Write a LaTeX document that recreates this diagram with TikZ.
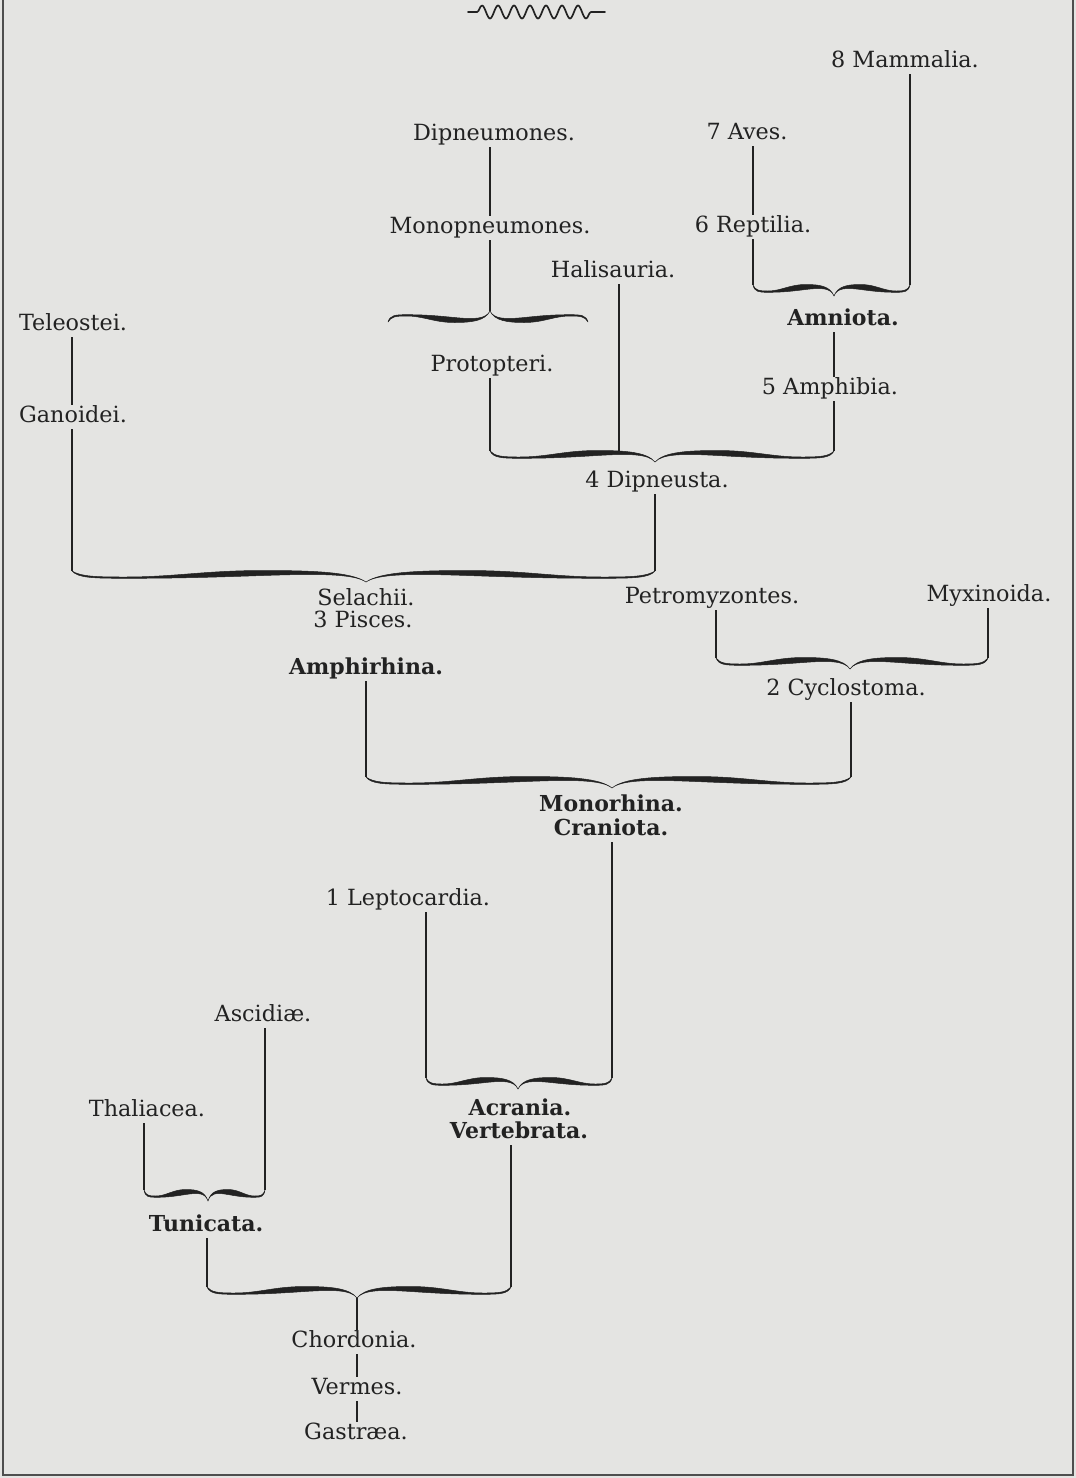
\documentclass[tikz,border=0pt]{standalone}
\usepackage{fontspec}
\setmainfont{DejaVu Serif}
\usetikzlibrary{decorations.pathmorphing}
\definecolor{paper}{HTML}{E4E4E2}
\definecolor{ink}{HTML}{222222}
\newcommand{\halfbrace}{%
  \filldraw[ink, line width=0.5pt, line join=round]
    (1,-6) .. controls (0.97,-0.5) and (0.92,0) .. (0.82,0)
    .. controls (0.65,0) and (0.55,-6.5) .. (0.35,-6.5)
    .. controls (0.18,-6.5) and (0.05,-5) .. (0,5)
    .. controls (0.04,-3) and (0.15,-3.5) .. (0.35,-1.5)
    .. controls (0.55,0.5) and (0.65,1.3) .. (0.82,1.3)
    .. controls (0.93,1.3) and (0.98,0.8) .. (1,-6) -- cycle;}
% #1 name, #2 xL, #3 xm, #4 xR, #5 y0, #6 orientation (1 or -1)
\newcommand{\hbrace}[6]{%
  \begin{scope}[shift={(#3,#5)}, yscale={#6}]
    \begin{scope}[xscale={-(#3-#2)}]\halfbrace\end{scope}
    \begin{scope}[xscale={#4-#3}]\halfbrace\end{scope}
  \end{scope}
  \coordinate (#1-L) at (#2,{#5-6*(#6)});
  \coordinate (#1-C) at (#3,{#5+5*(#6)});
  \coordinate (#1-R) at (#4,{#5-6*(#6)});}
\tikzset{
  lbl/.style={text=ink, inner sep=2pt, text height=15pt, text depth=5pt, anchor=base,
              font=\fontsize{22.3}{26}\selectfont},
  blbl/.style={lbl, font=\fontsize{22}{26}\selectfont\bfseries},
  conn/.style={draw=ink, line width=1.2pt},
  frame/.style={draw=ink!80, line width=1.5pt}
}
\begin{document}
\begin{tikzpicture}[x=1pt, y=-1pt]
\fill[paper] (0,0) rectangle (1076,1478);
\useasboundingbox (0,0) rectangle (1076,1478);
% frame
\coordinate (f1) at (3,0);
\coordinate (f2) at (3,1475);
\coordinate (f3) at (1073,1475);
\coordinate (f4) at (1073,0);
\draw[frame] (f1) -- (f2) -- (f3) -- (f4);
% wavy ornament
\coordinate (w1) at (468,12);
\coordinate (w2) at (605,12);
\draw[ink, line width=1.7pt, line join=round, line cap=round, decorate,
  decoration={snake, amplitude=6.5pt, segment length=16pt, pre length=9pt, post length=9pt}]
  (w1) -- (w2);

% labels
\node[lbl] (mammalia) at (905,67) {8 Mammalia.};
\node[lbl] (aves) at (747,139) {7 Aves.};
\node[lbl] (reptilia) at (753,232) {6 Reptilia.};
\node[blbl] (amniota) at (843,325) {Amniota.};
\node[lbl] (amphibia) at (830,394) {5 Amphibia.};
\node[lbl] (dipneumones) at (494,140) {Dipneumones.};
\node[lbl] (monopneumones) at (490,233) {Monopneumones.};
\node[lbl] (halisauria) at (613,277) {Halisauria.};
\node[lbl] (protopteri) at (492,371) {Protopteri.};
\node[lbl] (dipneusta) at (657,487) {4 Dipneusta.};
\node[lbl] (teleostei) at (73,330) {Teleostei.};
\node[lbl] (ganoidei) at (73,422) {Ganoidei.};
\node[lbl] (selachii) at (366,605) {Selachii.};
\node[lbl] (pisces) at (363,627) {3 Pisces.};
\node[blbl] (amphirhina) at (366,674) {Amphirhina.};
\node[lbl] (petromyzontes) at (712,603) {Petromyzontes.};
\node[lbl] (myxinoida) at (989,601) {Myxinoida.};
\node[lbl] (cyclostoma) at (846,695) {2 Cyclostoma.};
\node[blbl] (monorhina) at (611,811) {Monorhina.};
\node[blbl] (craniota) at (611,835) {Craniota.};
\node[lbl] (leptocardia) at (408,905) {1 Leptocardia.};
\node[blbl] (acrania) at (520,1115) {Acrania.};
\node[blbl] (vertebrata) at (519,1138) {Vertebrata.};
\node[lbl] (ascidiae) at (263,1021) {Ascidiæ.};
\node[lbl] (thaliacea) at (147,1116) {Thaliacea.};
\node[blbl] (tunicata) at (206,1231) {Tunicata.};
\node[lbl] (chordonia) at (354,1347) {Chordonia.};
\node[lbl] (vermes) at (357,1394) {Vermes.};
\node[lbl] (gastraea) at (356,1439) {Gastræa.};

% braces
\hbrace{amn}{753}{834}{910}{291}{1}
\hbrace{pneu}{388}{490}{588}{316}{-1}
\hbrace{dip}{490}{655}{834}{457}{1}
\hbrace{pis}{72}{366}{655}{577}{1}
\hbrace{cyc}{716}{850}{988}{664}{1}
\hbrace{mon}{366}{612}{851}{783}{1}
\hbrace{acr}{426}{518}{612}{1084}{1}
\hbrace{tun}{144}{208}{265}{1196}{1}
\hbrace{chd}{207}{357}{511}{1293}{1}
\coordinate (hal-foot) at (619,451);

% connectors
\draw[conn] (mammalia.south -| amn-R) -- (amn-R);
\draw[conn] (aves.south -| amn-L) -- (reptilia.north -| amn-L);
\draw[conn] (reptilia.south -| amn-L) -- (amn-L);
\draw[conn] (amniota.south -| amn-C) -- (amphibia.north -| amn-C);
\draw[conn] (amphibia.south -| dip-R) -- (dip-R);
\draw[conn] (dipneumones.south -| pneu-C) -- (monopneumones.north -| pneu-C);
\draw[conn] (monopneumones.south -| pneu-C) -- (pneu-C);
\draw[conn] (halisauria.south -| hal-foot) -- (hal-foot);
\draw[conn] (protopteri.south -| dip-L) -- (dip-L);
\draw[conn] (dipneusta.south -| pis-R) -- (pis-R);
\draw[conn] (teleostei.south -| pis-L) -- (ganoidei.north -| pis-L);
\draw[conn] (ganoidei.south -| pis-L) -- (pis-L);
\draw[conn] (amphirhina.south -| mon-L) -- (mon-L);
\draw[conn] (petromyzontes.south -| cyc-L) -- (cyc-L);
\draw[conn] (myxinoida.south -| cyc-R) -- (cyc-R);
\draw[conn] (cyclostoma.south -| mon-R) -- (mon-R);
\draw[conn] (craniota.south -| acr-R) -- (acr-R);
\draw[conn] (leptocardia.south -| acr-L) -- (acr-L);
\draw[conn] (ascidiae.south -| tun-R) -- (tun-R);
\draw[conn] (thaliacea.south -| tun-L) -- (tun-L);
\draw[conn] (vertebrata.south -| chd-R) -- (chd-R);
\draw[conn] (tunicata.south -| chd-L) -- (chd-L);
\draw[conn] (chd-C) -- (chordonia.north -| chd-C);
\draw[conn] (chordonia.south -| chd-C) -- (vermes.north -| chd-C);
\draw[conn] (vermes.south -| chd-C) -- (gastraea.north -| chd-C);
\end{tikzpicture}
\end{document}
